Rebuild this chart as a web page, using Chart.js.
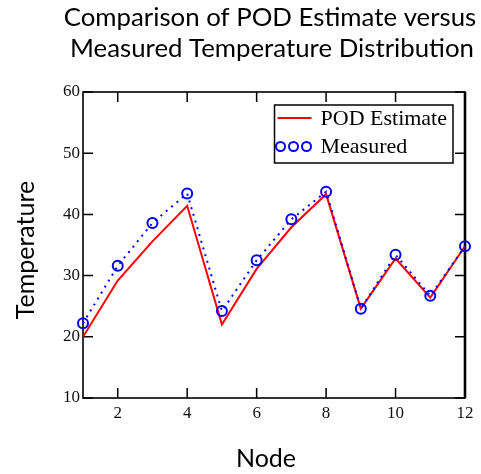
<!DOCTYPE html>
<html>
<head>
<meta charset="utf-8">
<script src="https://cdn.jsdelivr.net/npm/chart.js@4/dist/chart.umd.min.js"></script>
<style>
  html, body { margin: 0; padding: 0; background: #fff; }
  #wrap { width: 481px; height: 474px; }
</style>
</head>
<body>
<div id="wrap"><canvas id="c" width="481" height="474"></canvas></div>
<script>
// Temperature at each node: POD reconstruction vs. measured values
const nodes = [1, 2, 3, 4, 5, 6, 7, 8, 9, 10, 11, 12];
const podEstimate = [20.0, 29.2, 35.6, 41.4, 22.0, 31.1, 37.9, 43.3, 24.6, 32.8, 26.4, 34.8];
const measured = [22.2, 31.6, 38.6, 43.4, 24.2, 32.5, 39.2, 43.7, 24.6, 33.4, 26.7, 34.8];

const xTickValues = [2, 4, 6, 8, 10, 12];
const yTickValues = [10, 20, 30, 40, 50, 60];

const titleLines = ['Comparison of POD Estimate versus', 'Measured Temperature Distribution'];
const xTitle = 'Node';
const yTitle = 'Temperature';
const seriesLabels = ['POD Estimate', 'Measured'];

const SANS = 'Lato, "Open Sans", sans-serif';
const SERIF = '"Liberation Serif", "DejaVu Serif", serif';

// Boxed plot frame with inward tick marks on all four sides
const framePlugin = {
  id: 'frame',
  beforeDatasetsDraw(chart) {
    const { ctx, chartArea: a, scales } = chart;
    const tick = 10;
    ctx.save();
    ctx.strokeStyle = '#000';
    ctx.lineWidth = 1.6;
    ctx.strokeRect(a.left, a.top, a.right - a.left, a.bottom - a.top);
    ctx.lineWidth = 2.6;
    ctx.beginPath();
    ctx.moveTo(a.right, a.top);
    ctx.lineTo(a.right, a.bottom);
    ctx.stroke();
    ctx.lineWidth = 1.5;
    ctx.beginPath();
    xTickValues.forEach(v => {
      const x = scales.x.getPixelForValue(v);
      ctx.moveTo(x, a.bottom); ctx.lineTo(x, a.bottom - tick);
      ctx.moveTo(x, a.top); ctx.lineTo(x, a.top + tick);
    });
    yTickValues.forEach(v => {
      const y = scales.y.getPixelForValue(v);
      ctx.moveTo(a.left, y); ctx.lineTo(a.left + tick, y);
      ctx.moveTo(a.right, y); ctx.lineTo(a.right - tick, y);
    });
    ctx.stroke();
    ctx.restore();
  }
};

// Two-line chart title and the axis titles
const titlesPlugin = {
  id: 'titles',
  afterDraw(chart) {
    const { ctx, chartArea: a } = chart;
    const cx = (a.left + a.right) / 2;
    ctx.save();
    ctx.fillStyle = '#000';
    ctx.textAlign = 'center';
    ctx.textBaseline = 'middle';
    ctx.font = '25.8px ' + SANS;
    titleLines.forEach((line, i) => ctx.fillText(line, cx - 4 + i * 2, 18 + i * 31));
    ctx.font = '25px ' + SANS;
    ctx.fillText(xTitle, cx - 8, chart.height - 15);
    ctx.translate(26, (a.top + a.bottom) / 2 + 5);
    ctx.rotate(-Math.PI / 2);
    ctx.fillText(yTitle, 0, 0);
    ctx.restore();
  }
};

// Boxed legend in the upper right of the plot
const boxLegendPlugin = {
  id: 'boxLegend',
  afterDatasetsDraw(chart) {
    const { ctx, chartArea: a } = chart;
    const ds = chart.data.datasets;
    ctx.save();
    ctx.font = '22px ' + SERIF;
    const textW = Math.max(...ds.map(d => ctx.measureText(d.label).width));
    const sampleW = 46;
    const w = sampleW + textW + 6;
    const h = 58;
    const right = a.right - 12;
    const left = right - w;
    const top = a.top + 13;
    ctx.fillStyle = '#fff';
    ctx.fillRect(left, top, w, h);
    ctx.strokeStyle = '#000';
    ctx.lineWidth = 1.5;
    ctx.strokeRect(left, top, w, h);

    ds.forEach((d, i) => {
      const y = top + 13 + i * 28.5;
      if (d.pointRadius > 0) {
        ctx.strokeStyle = d.pointBorderColor;
        ctx.lineWidth = 2;
        [6, 19, 32].forEach(dx => {
          ctx.beginPath();
          ctx.arc(left + dx, y, 4.5, 0, Math.PI * 2);
          ctx.stroke();
        });
      } else {
        ctx.strokeStyle = d.borderColor;
        ctx.lineWidth = d.borderWidth;
        ctx.beginPath();
        ctx.moveTo(left + 3, y);
        ctx.lineTo(left + 37, y);
        ctx.stroke();
      }
      ctx.fillStyle = '#000';
      ctx.textAlign = 'left';
      ctx.textBaseline = 'middle';
      ctx.fillText(d.label, left + sampleW, y + 1);
    });
    ctx.restore();
  }
};

const toPoints = vals => nodes.map((n, i) => ({ x: n, y: vals[i] }));

new Chart(document.getElementById('c'), {
  type: 'line',
  data: {
    datasets: [
      {
        label: seriesLabels[0],
        data: toPoints(podEstimate),
        borderColor: '#ff0000',
        borderWidth: 2,
        pointRadius: 0,
        tension: 0,
        order: 1
      },
      {
        label: seriesLabels[1],
        data: toPoints(measured),
        borderColor: '#0000ff',
        borderWidth: 2,
        borderDash: [2, 5],
        pointStyle: 'circle',
        pointRadius: 5,
        pointBorderWidth: 2,
        pointBorderColor: '#0000ff',
        pointBackgroundColor: 'rgba(0,0,0,0)',
        tension: 0,
        clip: false,
        order: 0
      }
    ]
  },
  options: {
    responsive: false,
    animation: false,
    devicePixelRatio: 1,
    layout: { padding: { top: 92, left: 0, right: 16, bottom: 0 } },
    plugins: {
      legend: { display: false },
      tooltip: { enabled: false },
      title: { display: false }
    },
    scales: {
      x: {
        type: 'linear',
        min: 1,
        max: 12,
        afterBuildTicks: s => { s.ticks = xTickValues.map(v => ({ value: v })); },
        afterFit: s => { s.height = 76; },
        grid: { display: false, drawTicks: false },
        border: { display: false },
        ticks: { color: '#111', padding: 5, maxRotation: 0, font: { family: SERIF, size: 17 } }
      },
      y: {
        type: 'linear',
        min: 10,
        max: 60,
        afterBuildTicks: s => { s.ticks = yTickValues.map(v => ({ value: v })); },
        afterFit: s => { s.width = 83; },
        grid: { display: false, drawTicks: false },
        border: { display: false },
        ticks: { color: '#111', padding: 3, font: { family: SERIF, size: 17 } }
      }
    }
  },
  plugins: [framePlugin, boxLegendPlugin, titlesPlugin]
});
</script>
</body>
</html>
